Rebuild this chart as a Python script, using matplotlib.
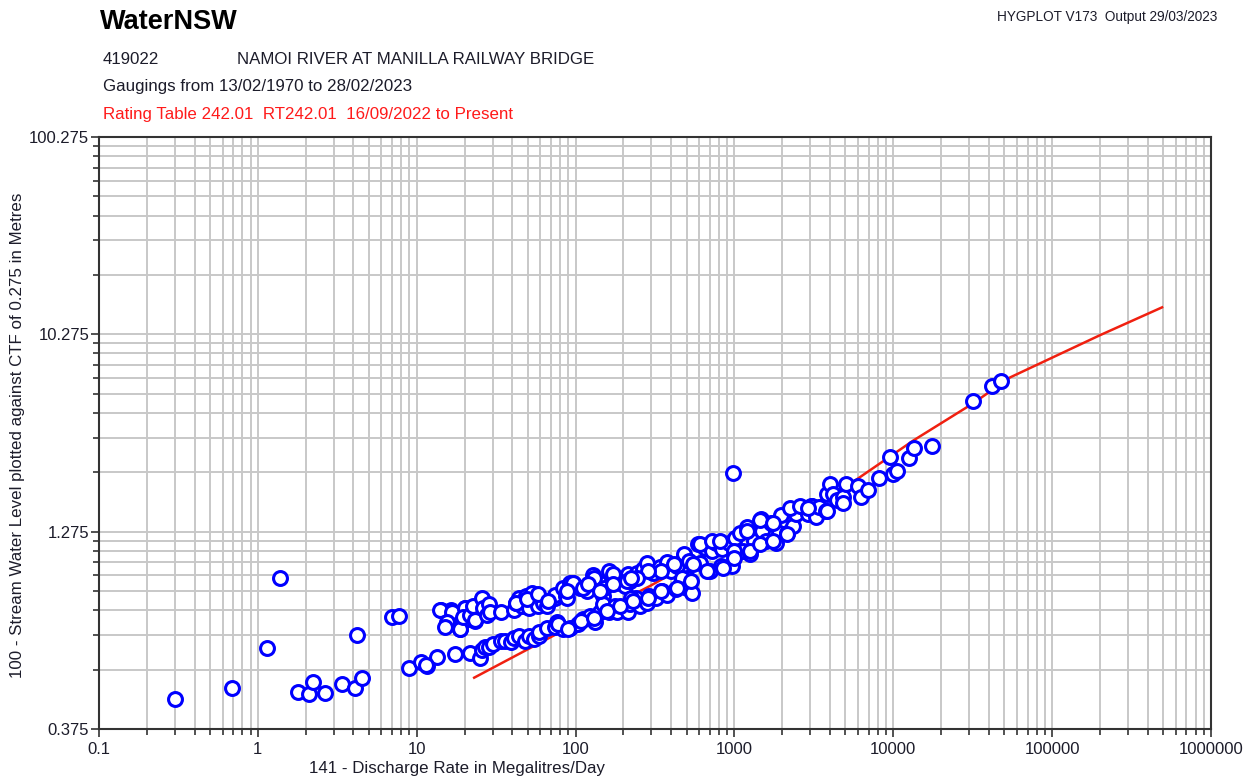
import numpy as np
import matplotlib
matplotlib.use("Agg")
from matplotlib import pyplot as plt
from matplotlib.ticker import FixedLocator, FuncFormatter, NullFormatter

CTF = 0.275

# gaugings: discharge (ML/day) and level above CTF (m)
gauge_q = [0.30, 0.69, 1.14, 1.37, 1.78, 2.09, 2.22, 2.64, 3.37, 4.07, 4.5, 4.2, 7.0, 7.7,
           8.9, 10.6, 11.6, 13.5, 17.3, 21.5,
           14.2, 16.4, 15.4, 15.9, 18.6, 20.0, 19.2, 20.9, 23.2, 23.8,
           14.0, 16.7, 15.6, 15.0, 18.6, 20.0, 19.5, 21.5, 22.5, 23.2, 25.6, 26.0, 27.5, 28.5, 29.0,
           34, 41, 42, 44, 46, 49, 53, 57, 51, 58, 62, 68, 74, 66,
           11.4, 25, 25.6, 26.8, 28.5, 30, 34, 36, 39, 41, 44, 48, 51, 55, 59, 59, 66, 74,
           74, 83, 92, 96, 87, 107, 118, 128, 143, 148, 162, 169, 182, 190, 205, 213, 220,
           244, 264, 283, 305, 340, 378, 400, 437, 480,
           76, 83, 92, 103, 112, 124, 133, 143, 148, 162, 176, 183, 213, 220, 240, 254, 280,
           290, 320, 350, 378, 430, 463, 500,
           480, 520, 590, 610, 650, 700, 720, 770, 820, 840, 930, 970, 1010, 1090, 1130, 1200,
           1250, 1320, 1460, 1500, 1570, 1700, 1840, 1900, 1960, 2150, 2350, 2440, 2800, 2920,
           3100, 465, 500, 540,
           3050, 3270, 3430, 3790, 3850, 3980, 4170, 4400, 4800, 4800, 5020, 5980, 6280, 6900,
           8140, 9600, 10000, 10500, 12500, 13600, 17500, 31600, 42000, 47800, 978,
           611, 727, 816, 990, 1207, 1457, 1758, 2250, 2600, 2920, 3840, 545, 414, 343, 284,
           245, 212, 173, 130, 95.7, 87.7, 112, 150, 222, 284, 343, 438, 530, 676, 851, 990,
           1260, 1457, 1758, 2155,
           42, 49.5, 57.7, 66.6, 87.7, 120, 143, 173, 222,
           78, 90, 108, 130, 158, 190, 230]
gauge_h = [0.142, 0.161, 0.258, 0.583, 0.154, 0.150, 0.173, 0.152, 0.169, 0.161, 0.181, 0.30, 0.37, 0.375,
           0.204, 0.219, 0.209, 0.232, 0.240, 0.243,
           0.40, 0.40, 0.337, 0.357, 0.322, 0.41, 0.366, 0.362, 0.354, 0.42,
           0.40, 0.39, 0.35, 0.33, 0.32, 0.41, 0.37, 0.38, 0.42, 0.355, 0.46, 0.41, 0.38, 0.43, 0.39,
           0.39, 0.40, 0.435, 0.46, 0.42, 0.47, 0.49, 0.46, 0.41, 0.42, 0.435, 0.445, 0.46, 0.42,
           0.21, 0.23, 0.25, 0.26, 0.26, 0.27, 0.28, 0.28, 0.275, 0.29, 0.295, 0.28, 0.295, 0.285, 0.295, 0.31, 0.325, 0.33,
           0.48, 0.52, 0.55, 0.55, 0.47, 0.52, 0.50, 0.60, 0.55, 0.47, 0.63, 0.56, 0.58, 0.55, 0.53, 0.61, 0.56,
           0.62, 0.65, 0.69, 0.62, 0.66, 0.70, 0.63, 0.67, 0.74,
           0.35, 0.32, 0.325, 0.34, 0.36, 0.375, 0.35, 0.39, 0.43, 0.39, 0.42, 0.39, 0.39, 0.43, 0.46, 0.42, 0.435,
           0.47, 0.46, 0.50, 0.48, 0.51, 0.55, 0.58,
           0.77, 0.71, 0.87, 0.69, 0.83, 0.63, 0.80, 0.88, 0.67, 0.82, 0.88, 0.67, 0.93, 0.98, 0.80, 1.05,
           0.77, 0.90, 1.16, 1.01, 0.90, 1.10, 0.88, 0.98, 1.21, 0.99, 1.07, 1.23, 1.32, 1.23,
           1.35, 0.58, 0.52, 0.49,
           1.35, 1.18, 1.34, 1.28, 1.56, 1.75, 1.56, 1.44, 1.49, 1.39, 1.75, 1.71, 1.49, 1.63,
           1.86, 2.40, 1.97, 2.04, 2.37, 2.64, 2.73, 4.57, 5.45, 5.77, 1.99,
           0.869, 0.90, 0.90, 0.80, 1.01, 1.14, 1.10, 1.32, 1.35, 1.32, 1.28, 0.688, 0.688, 0.634, 0.634,
           0.584, 0.564, 0.612, 0.584, 0.551, 0.462, 0.52, 0.52, 0.462, 0.462, 0.50, 0.52, 0.564, 0.634, 0.657, 0.738,
           0.80, 0.869, 0.90, 0.977,
           0.436, 0.457, 0.485, 0.446, 0.50, 0.545, 0.50, 0.545, 0.584,
           0.341, 0.32, 0.353, 0.366, 0.397, 0.421, 0.446]

# rating table RT242.01
rating_q = [23, 76, 296, 560, 1890, 5370, 13400, 31800, 54400, 200000, 492000]
rating_h = [0.182, 0.303, 0.532, 0.71, 1.11, 1.75, 2.90, 4.47, 6.05, 9.9, 13.7]

x_major = [0.1, 1, 10, 100, 1000, 10000, 100000, 1000000]
y_major = [0.1, 1, 10, 100]

txt = '#1c1c2a'
plt.rcParams['font.family'] = ['Liberation Sans', 'DejaVu Sans']

fig = plt.figure(figsize=(12.53, 7.80), dpi=100)
ax = fig.add_axes([99/1253, 51/780, 1112/1253, 592/780])
ax.set_xscale('log')
ax.set_yscale('log')
ax.set_xlim(0.1, 1e6)
ax.set_ylim(0.1, 100)

x_minor = [m * d for d in x_major[:-1] for m in range(2, 10)]
y_minor = [m * d for d in y_major[:-1] for m in range(2, 10)]
ax.xaxis.set_major_locator(FixedLocator(x_major))
ax.xaxis.set_minor_locator(FixedLocator(x_minor))
ax.yaxis.set_major_locator(FixedLocator(y_major))
ax.yaxis.set_minor_locator(FixedLocator(y_minor))
ax.xaxis.set_major_formatter(FuncFormatter(lambda v, p: '0.1' if v < 1 else f'{v:.0f}'))
ax.yaxis.set_major_formatter(FuncFormatter(lambda v, p: f'{v + CTF:.3f}'))
ax.xaxis.set_minor_formatter(NullFormatter())
ax.yaxis.set_minor_formatter(NullFormatter())

ax.grid(True, which='both', color='#c8c8c8', lw=1.4, zorder=0)
ax.set_axisbelow(True)

ax.plot(rating_q, rating_h, color='#f02010', lw=1.8, zorder=2)
ax.plot(gauge_q, gauge_h, 'o', ms=10, mfc='white', mec='#0000ff', mew=2.2, zorder=3)

ax.tick_params(which='both', direction='out', color='#333333', labelsize=12, labelcolor=txt)
ax.tick_params(which='major', length=6, width=1.2)
ax.tick_params(which='minor', length=4, width=1.2)
ax.tick_params(axis='x', pad=3)
ax.tick_params(axis='y', pad=1)
for s in ax.spines.values():
    s.set_color('#333333')
    s.set_linewidth(1.5)

fig.text(100/1253, 1 - 22/780, 'WaterNSW', fontsize=19.5, fontweight='bold', color='black', va='center')
fig.text(1217/1253, 1 - 17/780, 'HYGPLOT V173  Output 29/03/2023', fontsize=9.8, color=txt,
         ha='right', va='center')
fig.text(103/1253, 1 - 60/780, '419022', fontsize=12.2, color=txt, va='center')
fig.text(237/1253, 1 - 60/780, 'NAMOI RIVER AT MANILLA RAILWAY BRIDGE', fontsize=12.2, color=txt, va='center')
fig.text(103/1253, 1 - 87/780, 'Gaugings from 13/02/1970 to 28/02/2023', fontsize=12.2, color=txt, va='center')
fig.text(103/1253, 1 - 114/780, 'Rating Table 242.01  RT242.01  16/09/2022 to Present', fontsize=12.2,
         color='#ff1a1a', va='center')
fig.text(457/1253, 1 - 768/780, '141 - Discharge Rate in Megalitres/Day', fontsize=12.2, color=txt,
         ha='center', va='center')
fig.text(18/1253, 1 - 435/780, '100 - Stream Water Level plotted against CTF of 0.275 in Metres', fontsize=12.2,
         color=txt, ha='center', va='center', rotation=90)

fig.savefig('out.png', dpi=100)
